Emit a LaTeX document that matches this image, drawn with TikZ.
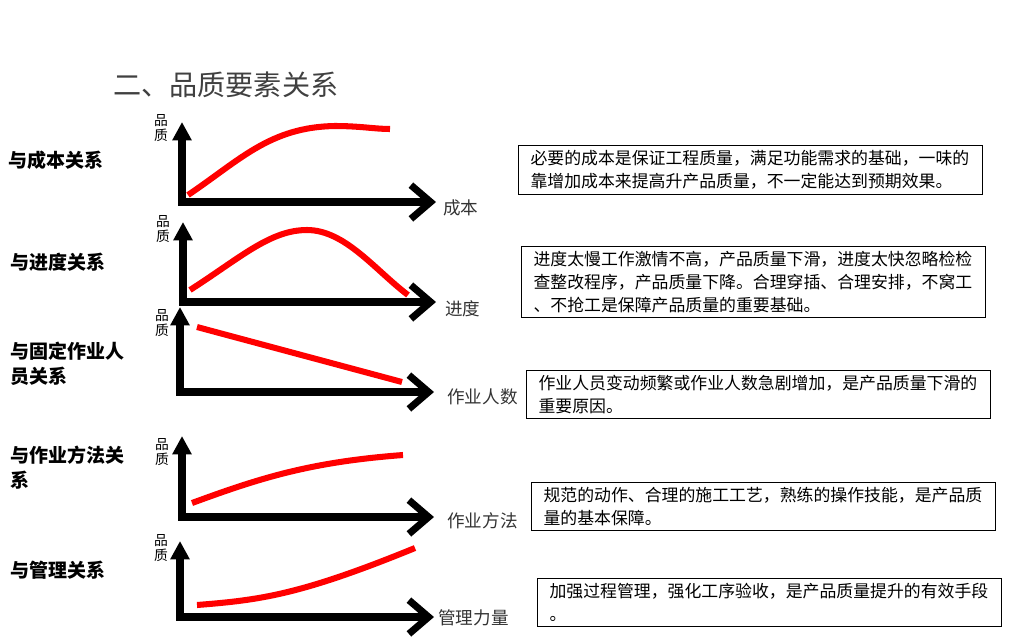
\documentclass[tikz,border=0pt]{standalone}
\usepackage{fontspec}
\setmainfont{Noto Sans CJK SC}
\usepackage{xcolor}
\usetikzlibrary{arrows.meta}
\definecolor{titlegray}{HTML}{404040}
\definecolor{curvered}{HTML}{FF0000}

\begin{document}
\begin{tikzpicture}[x=0.025cm,y=-0.025cm,
    axes/.style={line width=5pt,line join=miter,{Triangle[length=13pt,width=13pt]}-{Straight Barb[length=14pt,width=24pt]}},
    curve/.style={curvered,line width=4.3pt},
    ylab/.style={inner sep=0pt,align=center,font=\fontsize{9.8}{11}\selectfont},
    xlab/.style={anchor=west,inner sep=0pt,text=black!80,font=\fontsize{12.5}{15}\selectfont},
    topic/.style={anchor=west,inner sep=0pt,align=left,font=\fontsize{13.5}{17.8}\selectfont\bfseries},
    note/.style={draw,line width=0.8pt,anchor=north west,align=left,text width=11cm,inner xsep=0.3cm,inner ysep=0.12cm,font=\fontsize{12}{16.3}\selectfont}]
  \useasboundingbox (0,0) rectangle (1024,640);

  \node[anchor=west,inner sep=0pt,text=titlegray,font=\fontsize{20}{24}\selectfont] (title) at (113,85) {二、品质要素关系};

  % cost
  \coordinate (o1) at (182,202);
  \coordinate (y1) at (182,122);
  \coordinate (x1) at (436,202);
  \draw[axes] (y1) -- (o1) -- (x1);
  \draw[curve] (188,195) .. controls (240,160) and (270,127) .. (335,126) .. controls (360,126) and (375,129) .. (390,129);
  \node[ylab] (q1) at (161,128) {品\\质};
  \node[xlab] (c1) at (443,208) {成本};
  \node[topic] (t1) at (8,160) {与成本关系};
  \node[note] (n1) at (518,145) {必要的成本是保证工程质量，满足功能需求的基础，一味的\\靠增加成本来提高升产品质量，不一定能达到预期效果。};

  % schedule
  \coordinate (o2) at (183,302);
  \coordinate (y2) at (183,222);
  \coordinate (x2) at (436,302);
  \draw[axes] (y2) -- (o2) -- (x2);
  \draw[curve] (190,290) .. controls (240,258) and (270,230) .. (307,230) .. controls (345,230) and (375,270) .. (408,295);
  \node[ylab] (q2) at (163,229) {品\\质};
  \node[xlab] (c2) at (445,309) {进度};
  \node[topic] (t2) at (10,262) {与进度关系};
  \node[note] (n2) at (521,246) {进度太慢工作激情不高，产品质量下滑，进度太快忽略检检\\查整改程序，产品质量下降。合理穿插、合理安排，不窝工\\、不抢工是保障产品质量的重要基础。};

  % workers
  \coordinate (o3) at (180,392);
  \coordinate (y3) at (180,307);
  \coordinate (x3) at (434,392);
  \draw[axes] (y3) -- (o3) -- (x3);
  \draw[curve] (197,327) -- (402,382);
  \node[ylab] (q3) at (162,323) {品\\质};
  \node[xlab] (c3) at (447,397) {作业人数};
  \node[topic] (t3) at (10,364) {与固定作业人\\员关系};
  \node[note] (n3) at (526,370) {作业人员变动频繁或作业人数急剧增加，是产品质量下滑的\\重要原因。};

  % method
  \coordinate (o4) at (182,517);
  \coordinate (y4) at (182,436);
  \coordinate (x4) at (434,517);
  \draw[axes] (y4) -- (o4) -- (x4);
  \draw[curve] (192,503) .. controls (260,478) and (310,462) .. (403,455);
  \node[ylab] (q4) at (162,452) {品\\质};
  \node[xlab] (c4) at (447,521) {作业方法};
  \node[topic] (t4) at (10,468) {与作业方法关\\系};
  \node[note] (n4) at (531,482) {规范的动作、合理的施工工艺，熟练的操作技能，是产品质\\量的基本保障。};

  % management
  \coordinate (o5) at (180,617);
  \coordinate (y5) at (180,541);
  \coordinate (x5) at (434,617);
  \draw[axes] (y5) -- (o5) -- (x5);
  \draw[curve] (197,605) .. controls (260,600) and (300,595) .. (415,548);
  \node[ylab] (q5) at (161,548) {品\\质};
  \node[xlab] (c5) at (438,618) {管理力量};
  \node[topic] (t5) at (10,570) {与管理关系};
  \node[note] (n5) at (537,578) {加强过程管理，强化工序验收，是产品质量提升的有效手段\\。};
\end{tikzpicture}
\end{document}
